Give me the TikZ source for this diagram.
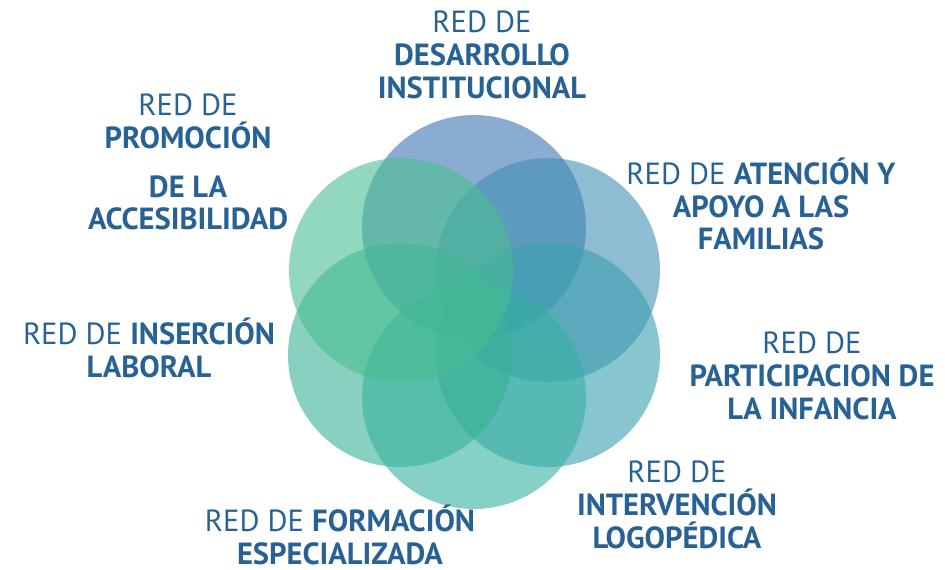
\documentclass[tikz,border=0pt]{standalone}
\usepackage{fontspec}
\setmainfont{PT Sans}
\definecolor{textored}{RGB}{40,98,148}
\definecolor{cdesarrollo}{RGB}{60,117,177}
\definecolor{catencion}{RGB}{65,143,182}
\definecolor{cparticipacion}{RGB}{57,160,175}
\definecolor{cintervencion}{RGB}{53,177,163}
\definecolor{cinsercion}{RGB}{57,177,150}
\definecolor{cpromocion}{RGB}{73,190,147}
\tikzset{
  petalo/.style={circle, inner sep=0pt, minimum size=4.48cm, fill=#1, fill opacity=0.6},
  etiqueta/.style={align=center, inner sep=1pt, text=textored, font=\fontsize{17.4}{18.7}\selectfont}
}
\begin{document}
\begin{tikzpicture}[x=0.02cm, y=-0.02cm]
% page size in pixels of the reference
\useasboundingbox (0,0) rectangle (945,570);

% the six circles of the flower
\node[petalo=cdesarrollo] (desarrollo) at (474,227) {};
\node[petalo=catencion] (atencion) at (548,270) {};
\node[petalo=cparticipacion] (participacion) at (548,355) {};
\node[petalo=cintervencion] (formacion) at (474,397) {};
\node[petalo=cinsercion] (insercion) at (400,355) {};
\node[petalo=cpromocion] (promocion) at (401,270) {};

% the labels round them
\node[etiqueta] (tdesarrollo) at (482,55) {RED DE\\ \textbf{DESARROLLO}\\ \textbf{INSTITUCIONAL}};
\node[etiqueta] (tatencion) at (761,204) {RED DE \textbf{ATENCIÓN Y}\\ \textbf{APOYO A LAS}\\ \textbf{FAMILIAS}};
\node[etiqueta] (tparticipacion) at (812,376) {RED DE\\ \textbf{PARTICIPACION DE}\\ \textbf{LA INFANCIA}};
\node[etiqueta] (tintervencion) at (677,505) {RED DE\\ \textbf{INTERVENCIÓN}\\ \textbf{LOGOPÉDICA}};
\node[etiqueta] (tformacion) at (340,535) {RED DE \textbf{FORMACIÓN}\\ \textbf{ESPECIALIZADA}};
\node[etiqueta] (tinsercion) at (149,348) {RED DE \textbf{INSERCIÓN}\\ \textbf{LABORAL}};
\node[etiqueta] (tpromocion) at (188,162) {RED DE\\ \textbf{PROMOCIÓN}\\[0.32cm] \textbf{DE LA}\\ \textbf{ACCESIBILIDAD}};
\end{tikzpicture}
\end{document}
